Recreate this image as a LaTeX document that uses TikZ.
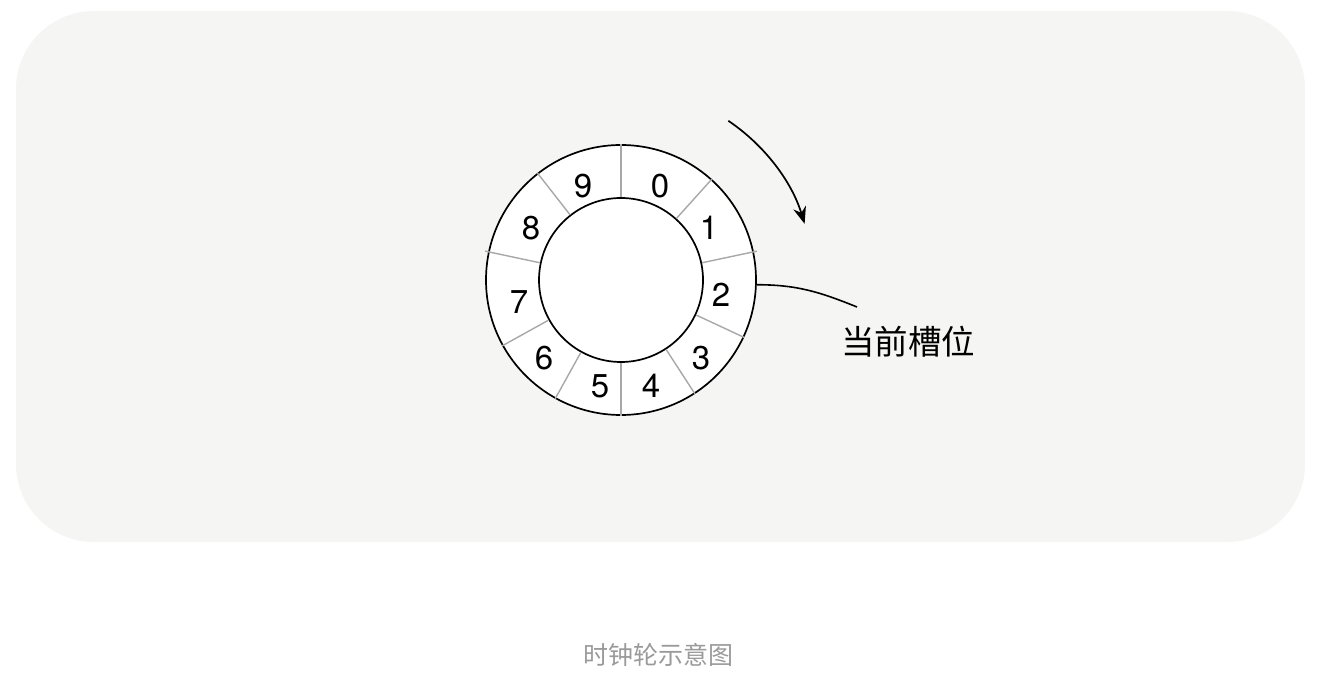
\documentclass[tikz,border=0pt]{standalone}
\usepackage{fontspec}
\setmainfont{TeX Gyre Heros}
\newfontfamily\cjk{Noto Sans CJK SC}
\usetikzlibrary{arrows.meta}
\definecolor{panelbg}{HTML}{F5F5F3}
\definecolor{slotline}{HTML}{A8A8A8}
\definecolor{captiongray}{HTML}{9A9A9A}
\tikzset{
  ring/.style={draw=black, line width=1.7pt, fill=white, circle, inner sep=0pt},
  divider/.style={draw=slotline, line width=1.4pt},
  digit/.style={font=\fontsize{33}{40}\selectfont, inner sep=0pt},
}

\begin{document}
\begin{tikzpicture}[x=1pt, y=1pt, >={Stealth[length=17pt, width=13pt]}]
    \useasboundingbox (0,0) rectangle (1320,694);

    % === BACKGROUND PANEL ===
    \fill[panelbg, rounded corners=78pt] (16,152) rectangle (1305,683);

    % === WHEEL ===
    \node[ring, minimum size=270pt] (wheel) at (621,414) {};
    \node[ring, minimum size=164pt] (hub) at (621,414) {};

    % slot dividers
    \foreach \a/\e in {90/0,48/0,12/3,-25/0,-57/0,-90/0,-119/0,-151/0,168/3,128/0}
        \draw[divider] (hub.\a) -- ([shift={(\a:\e)}]wheel.\a);

    % slot numbers
    \foreach \n/\x/\y in {0/660/508, 1/709/466, 2/721/399, 3/701/336, 4/651/308,
                          5/600/308, 6/544/336, 7/519/392, 8/531/466, 9/583/508}
        \node[digit] (n\n) at (\x,\y) {\n};

    % === ROTATION ARROW ===
    \draw[->, line width=1.7pt] (wheel.center) ++(56:192) arc[start angle=56, end angle=17, radius=192];

    % === CURRENT SLOT LABEL ===
    \node[font=\cjk\fontsize{33.5}{40}\selectfont, inner sep=0pt] (slot) at (908,352) {当前槽位};
    \coordinate (slotend) at (857,387);
    \draw[line width=1.6pt] (wheel.-2) to[out=0, in=158] (slotend);

    % === CAPTION ===
    \node[font=\cjk\fontsize{25}{30}\selectfont, text=captiongray, inner sep=0pt] (caption) at (658,39) {时钟轮示意图};
\end{tikzpicture}
\end{document}
